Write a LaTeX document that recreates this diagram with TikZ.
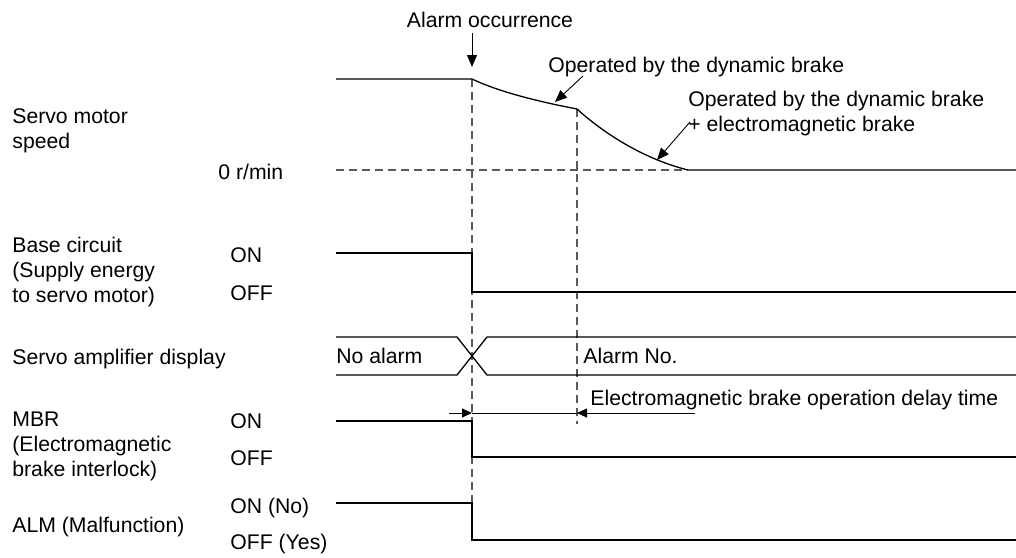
\documentclass[tikz,border=0pt]{standalone}
\usepackage{fontspec}
\setmainfont{Liberation Sans}
\usetikzlibrary{positioning,arrows.meta}
\definecolor{guidegray}{HTML}{5A5A5A}

\begin{document}
\begin{tikzpicture}[
  x=0.5pt, y=-0.5pt,
  font=\fontsize{10.6}{12.5}\selectfont,
  sig/.style={line width=0.65pt},
  guide/.style={guidegray, line width=0.6pt, dash pattern=on 4pt off 2.5pt},
  lbl/.style={inner sep=0pt, anchor=base west, align=left},
  ptr/.style={-{Triangle[length=6pt, width=5pt]}, line width=0.45pt},
  dim/.style={-{Triangle[length=5pt, width=4.5pt]}, line width=0.45pt},
]
\useasboundingbox (0,0) rectangle (1016,557);

% key points of the time chart
\coordinate (v0) at (336,79);
\coordinate (va) at (472,79);
\coordinate (vb) at (577,109);
\coordinate (vz) at (688,170);
\coordinate (ve) at (1016,170);
\coordinate (z0) at (336,170);
\coordinate (aend) at (472,540);
\coordinate (bend) at (577,424);

% dashed guides
\draw[guide] (z0) -- (vz);
\draw[guide] (va) -- (aend);
\draw[guide] (vb) -- (bend);

% servo motor speed
\draw[sig] (v0) -- (va) .. controls (495,90) and (530,100) .. (vb)
  .. controls (600,130) and (640,158) .. (vz) -- (ve);

% on/off signals
\foreach \hi/\lo in {253/292, 421/457, 503/540}
  \draw[sig] (336,\hi) -- (472,\hi) -- (472,\lo) -- (1016,\lo);

% display
\draw[sig] (336,337) -- (457,337) -- (487,375) -- (1016,375);
\draw[sig] (336,375) -- (457,375) -- (487,337) -- (1016,337);

% alarm occurrence
\node[lbl, anchor=base] (alarm) at (490,27) {Alarm occurrence};
\coordinate (al0) at (472,33);
\coordinate (al1) at (472,67);
\draw[-{Triangle[length=6pt, width=5pt]}, line width=0.5pt] (al0) -- (al1);

% brake labels
\node[lbl] (op1) at (548,72) {Operated by the dynamic brake};
\coordinate (p1) at (583,76);
\coordinate (c1) at (555,102);
\draw[ptr] (p1) -- (c1);
\node[lbl] (op2) at (688,131) {Operated by the dynamic brake\\+ electromagnetic brake};
\coordinate (p2) at (690,122);
\coordinate (c2) at (657,160);
\draw[ptr] (p2) -- (c2);

% delay time
\coordinate (d0) at (449,413);
\coordinate (d1) at (472,413);
\coordinate (d2) at (577,413);
\coordinate (d3) at (695,413);
\draw[dim] (d0) -- (d1);
\draw[line width=0.45pt] (d1) -- (d2);
\draw[dim] (d3) -- (d2);
\node[lbl] (delay) at (590,405) {Electromagnetic brake operation delay time};

% row names
\node[lbl] (speed) at (12,148) {Servo motor\\speed};
\node[lbl] (zero) at (218,179) {0 r/min};
\node[lbl] (base) at (12,302) {Base circuit\\(Supply energy\\to servo motor)};
\node[lbl] (baseon) at (230,262) {ON};
\node[lbl] (baseoff) at (230,300) {OFF};
\node[lbl] (disp) at (12,364) {Servo amplifier display};
\node[lbl] (noalm) at (336,363) {No alarm};
\node[lbl] (almno) at (583,363) {Alarm No.};
\node[lbl] (mbr) at (12,476) {MBR\\(Electromagnetic\\brake interlock)};
\node[lbl] (mbron) at (230,428) {ON};
\node[lbl] (mbroff) at (230,465) {OFF};
\node[lbl] (alm) at (12,532) {ALM (Malfunction)};
\node[lbl] (almon) at (230,513) {ON (No)};
\node[lbl] (almoff) at (230,549) {OFF (Yes)};
\end{tikzpicture}
\end{document}
